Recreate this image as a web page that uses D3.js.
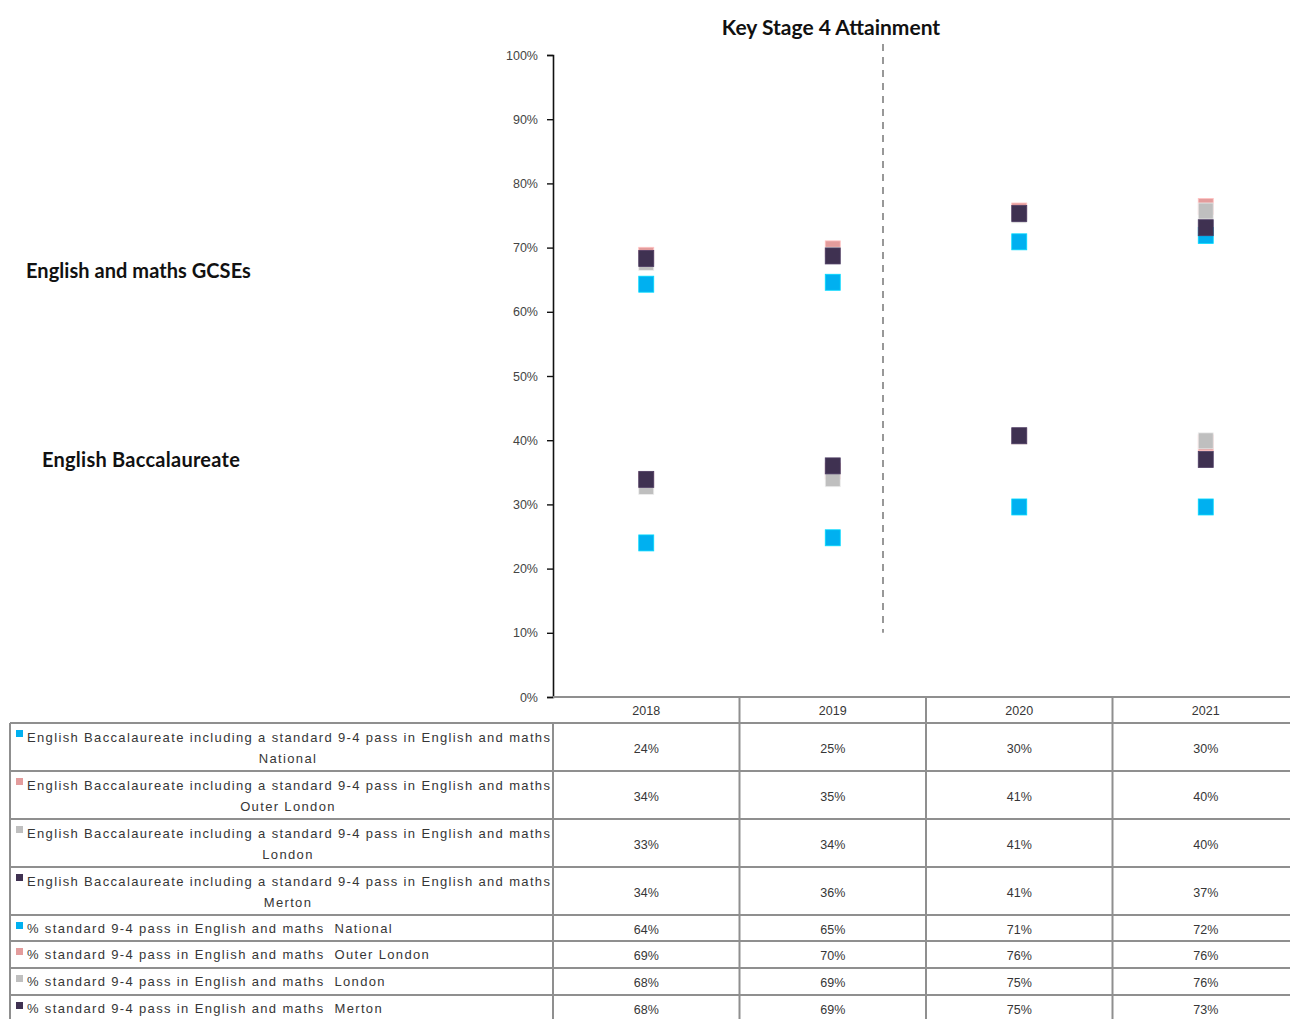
<!DOCTYPE html>
<html>
<head>
<meta charset="utf-8">
<script src="https://cdn.jsdelivr.net/npm/d3@7/dist/d3.min.js"></script>
<style>
  html, body { margin: 0; padding: 0; background: #fff; }
  svg { display: block; }
</style>
</head>
<body>
<svg id="chart" width="1290" height="1019"></svg>
<script>
// Key Stage 4 attainment, share of pupils (%)
const years = ["2018", "2019", "2020", "2021"];
const regions = ["National", "Outer London", "London", "Merton"];

// English Baccalaureate incl. standard 9-4 pass in English and maths
const ebaccNational    = [24.0, 24.8, 29.6, 29.6];
const ebaccOuterLondon = [33.8, 35.2, 40.6, 39.6];
const ebaccLondon      = [32.8, 34.0, 40.6, 39.9];
const ebaccMerton      = [33.9, 36.0, 40.7, 37.0];

// % standard 9-4 pass in English and maths
const gcseNational    = [64.3, 64.6, 70.9, 71.9];
const gcseOuterLondon = [68.8, 69.8, 75.7, 76.4];
const gcseLondon      = [67.7, 68.8, 75.1, 75.7];
const gcseMerton      = [68.3, 68.7, 75.3, 73.1];

const yTicks = [0, 10, 20, 30, 40, 50, 60, 70, 80, 90, 100];
const regionColors = ["#00B0F0", "#E39C9C", "#BFBFBF", "#3F3151"];

const ebaccLabel = "English Baccalaureate including a standard 9-4 pass in English and maths";
const gcseLabel = "% standard 9-4 pass in English and maths";

const series = [
  { group: "ebacc", region: 0, values: ebaccNational },
  { group: "ebacc", region: 1, values: ebaccOuterLondon },
  { group: "ebacc", region: 2, values: ebaccLondon },
  { group: "ebacc", region: 3, values: ebaccMerton },
  { group: "gcse",  region: 0, values: gcseNational },
  { group: "gcse",  region: 1, values: gcseOuterLondon },
  { group: "gcse",  region: 2, values: gcseLondon },
  { group: "gcse",  region: 3, values: gcseMerton }
];

const svg = d3.select("#chart");
const plotLeft = 553, plotTop = 55, plotBottom = 697;
const colW = 186.5;

const x = d3.scaleBand().domain(years).range([plotLeft, plotLeft + colW * years.length]).padding(0);
const y = d3.scaleLinear().domain([0, 100]).range([plotBottom, plotTop]);

const lineCol = "#8f8f8f";
const textCol = "#363636";
const headFont = "Lato, 'Open Sans', sans-serif";

// title
svg.append("text")
  .attr("x", 831).attr("y", 35)
  .attr("text-anchor", "middle")
  .attr("font-family", headFont)
  .attr("font-weight", "bold")
  .attr("font-size", 21)
  .attr("fill", "#111")
  .text("Key Stage 4 Attainment");

// group labels on the left
svg.append("text")
  .attr("x", 26).attr("y", 278)
  .attr("font-family", headFont)
  .attr("font-weight", "bold").attr("font-size", 20).attr("letter-spacing", 0.05)
  .attr("fill", "#111")
  .text("English and maths GCSEs");
svg.append("text")
  .attr("x", 42).attr("y", 467)
  .attr("font-family", headFont)
  .attr("font-weight", "bold").attr("font-size", 20).attr("letter-spacing", 0.25)
  .attr("fill", "#111")
  .text("English Baccalaureate");

// y axis
const yAxis = d3.axisLeft(y).tickValues(yTicks).tickSize(6).tickFormat(d => d + "%");
const gy = svg.append("g").attr("transform", `translate(${plotLeft},0)`).call(yAxis);
gy.select(".domain").attr("stroke", "#111").attr("stroke-width", 1.6);
gy.selectAll(".tick line").attr("stroke", "#111").attr("stroke-width", 1.4);
gy.selectAll(".tick text")
  .attr("x", -15)
  .attr("font-family", "'Liberation Sans', Arial, sans-serif")
  .attr("font-size", 12.5).attr("fill", "#444");

// vertical dashed divider between 2019 and 2020
svg.append("line")
  .attr("x1", 883).attr("x2", 883)
  .attr("y1", 44).attr("y2", y(10))
  .attr("stroke", "#777").attr("stroke-width", 1.5)
  .attr("stroke-dasharray", "7,6");

// markers
const mW = 15, mH = 16;
series.forEach(s => {
  svg.append("g").selectAll("rect")
    .data(s.values)
    .join("rect")
    .attr("x", (d, i) => x(years[i]) + x.bandwidth() / 2 - mW / 2)
    .attr("y", d => y(d) - mH / 2)
    .attr("width", mW).attr("height", mH)
    .attr("fill", regionColors[s.region])
    .attr("stroke", d3.color(regionColors[s.region]).brighter(0.6))
    .attr("stroke-width", 0.8);
});

// data table
const rowTops = [723, 771, 819, 867, 915, 941, 968, 995];
const tableLeft = 10, tableRight = 1300;
const tbl = svg.append("g");
const fontTbl = "'Liberation Sans', Arial, sans-serif";
const spacing = 1.35;

// header row (years)
tbl.selectAll("text.year")
  .data(years)
  .join("text")
  .attr("class", "year")
  .attr("x", d => x(d) + x.bandwidth() / 2)
  .attr("y", 715)
  .attr("text-anchor", "middle")
  .attr("font-family", fontTbl)
  .attr("font-size", 12.5).attr("fill", textCol)
  .text(d => d);

// grid lines
tbl.append("line").attr("x1", plotLeft).attr("x2", tableRight).attr("y1", plotBottom).attr("y2", plotBottom)
  .attr("stroke", lineCol).attr("stroke-width", 2);
rowTops.forEach(t => {
  tbl.append("line").attr("x1", tableLeft).attr("x2", tableRight).attr("y1", t).attr("y2", t)
    .attr("stroke", lineCol).attr("stroke-width", 2);
});
tbl.append("line").attr("x1", tableLeft).attr("x2", tableLeft).attr("y1", rowTops[0]).attr("y2", 1019)
  .attr("stroke", lineCol).attr("stroke-width", 2);
years.forEach((yr, i) => {
  const xx = x(yr);
  tbl.append("line").attr("x1", xx).attr("x2", xx)
    .attr("y1", i === 0 ? rowTops[0] : plotBottom).attr("y2", 1019)
    .attr("stroke", lineCol).attr("stroke-width", 2);
});

series.forEach((s, r) => {
  const top = rowTops[r];
  const tall = s.group === "ebacc";
  // legend key
  tbl.append("rect")
    .attr("x", 16).attr("y", top + 7)
    .attr("width", 7).attr("height", 7)
    .attr("fill", regionColors[s.region]);
  if (tall) {
    tbl.append("text")
      .attr("x", 27).attr("y", top + 19)
      .attr("font-family", fontTbl).attr("font-size", 13)
      .attr("letter-spacing", spacing).attr("fill", textCol)
      .text(ebaccLabel);
    tbl.append("text")
      .attr("x", 288).attr("y", top + 40)
      .attr("text-anchor", "middle")
      .attr("font-family", fontTbl).attr("font-size", 13)
      .attr("letter-spacing", spacing).attr("fill", textCol)
      .text(regions[s.region]);
  } else {
    tbl.append("text")
      .attr("x", 27).attr("y", top + 18)
      .attr("font-family", fontTbl).attr("font-size", 13)
      .attr("letter-spacing", spacing).attr("fill", textCol)
      .attr("xml:space", "preserve")
      .text(gcseLabel + "  " + regions[s.region]);
  }
  // values
  tbl.selectAll(null)
    .data(s.values)
    .join("text")
    .attr("x", (d, i) => x(years[i]) + x.bandwidth() / 2)
    .attr("y", tall ? top + 30 : top + 19)
    .attr("text-anchor", "middle")
    .attr("font-family", fontTbl).attr("font-size", 12.5)
    .attr("fill", textCol)
    .text(d => Math.round(d) + "%");
});
</script>
</body>
</html>
